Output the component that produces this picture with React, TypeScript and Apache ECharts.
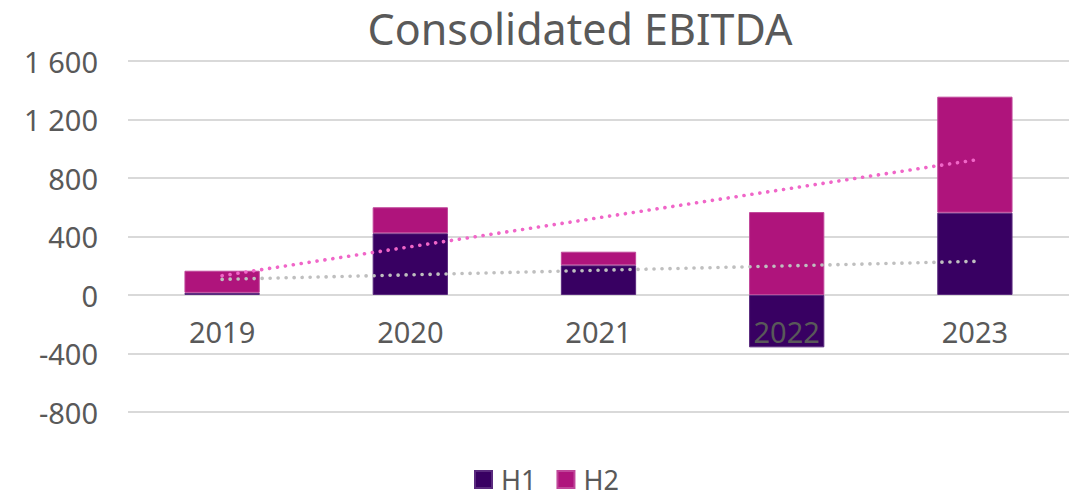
import React, { useEffect, useRef } from "react";
import * as echarts from "echarts";

const years = ["2019", "2020", "2021", "2022", "2023"];
const h1 = [15, 422, 203, -358, 563];
const h2 = [151, 178, 93, 567, 793];
const totalTrend = [132, 330, 528, 725, 923];
const h1Trend = [107, 138, 169, 199, 230];
const yTicks = { min: -800, max: 1600, interval: 400 };

const FONT = "'Noto Sans', sans-serif";
const TEXT = "#595959";

export default function App() {
  const ref = useRef<HTMLDivElement>(null);
  useEffect(() => {
    const chart = echarts.init(ref.current!, null, { renderer: "svg" });
    chart.setOption({
      animation: false,
      textStyle: { fontFamily: FONT },
      title: {
        text: "Consolidated EBITDA",
        left: 575,
        textAlign: "center",
        top: 2,
        textStyle: { fontFamily: FONT, fontSize: 43, fontWeight: "normal", color: TEXT },
      },
      legend: {
        data: ["H1", "H2"],
        left: 474,
        top: 466,
        padding: 0,
        itemWidth: 17,
        itemHeight: 17,
        itemGap: 20,
        icon: "rect",
        textStyle: { fontFamily: FONT, fontSize: 27, lineHeight: 27, color: TEXT, padding: [0, 0, 0, 4] },
      },
      grid: { left: 128, right: 0, top: 61, bottom: 499 - 412 },
      xAxis: {
        type: "category",
        data: years,
        z: 10,
        axisLine: { show: false },
        axisTick: { show: false },
        axisLabel: { fontFamily: FONT, fontSize: 29, color: TEXT, margin: 22 },
        position: "bottom",
        offset: -(412 - 295),
      },
      yAxis: {
        type: "value",
        min: yTicks.min,
        max: yTicks.max,
        interval: yTicks.interval,
        axisLine: { show: false },
        axisTick: { show: false },
        splitLine: { lineStyle: { color: "#D9D9D9", width: 2 } },
        axisLabel: {
          fontFamily: FONT,
          fontSize: 29,
          color: TEXT,
          margin: 30,
          formatter: (v: number) => {
            const s = Math.abs(v).toString().replace(/\B(?=(\d{3})+(?!\d))/g, " ");
            return (v < 0 ? "-" : "") + s;
          },
        },
      },
      series: [
        {
          name: "H1",
          type: "bar",
          stack: "a",
          data: h1,
          barWidth: "40%",
          itemStyle: { color: "#380062", borderColor: "#5a2a7e", borderWidth: 1 },
        },
        {
          name: "H2",
          type: "bar",
          stack: "a",
          data: h2,
          barWidth: "40%",
          itemStyle: { color: "#AF147C", borderColor: "#c0479a", borderWidth: 1 },
        },
        {
          name: "trendTotal",
          type: "line",
          data: totalTrend,
          symbol: "none",
          z: 5,
          lineStyle: { color: "#F066C8", width: 3.6, type: [0.1, 7.9], cap: "round" },
        },
        {
          name: "trendH1",
          type: "line",
          data: h1Trend,
          symbol: "none",
          z: 5,
          lineStyle: { color: "#BFBFBF", width: 3.6, type: [0.1, 7.9], cap: "round" },
        },
      ],
    });
    return () => chart.dispose();
  }, []);
  return (
    <div
      ref={ref}
      style={{ position: "fixed", left: 0, top: 0, width: 1069, height: 499, background: "#fff" }}
    />
  );
}
